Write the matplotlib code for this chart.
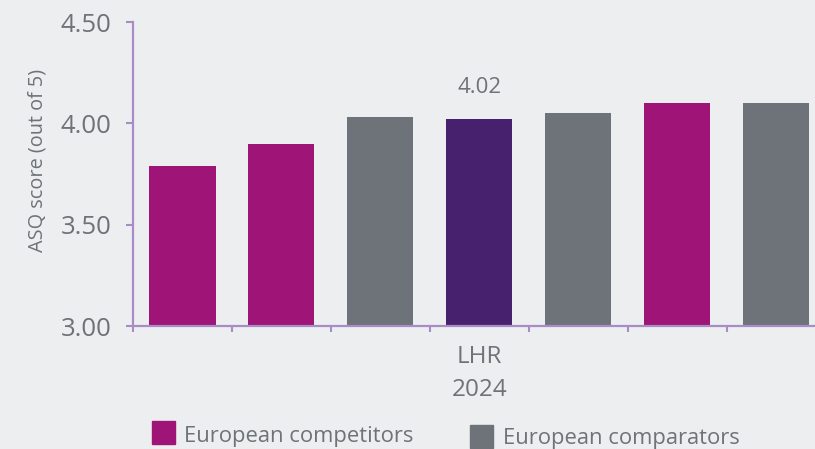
import matplotlib.pyplot as plt
from matplotlib.patches import Rectangle

# ASQ scores, LHR in the middle
scores = [3.79, 3.90, 4.03, 4.02, 4.05, 4.10, 4.10]
groups = ['competitor', 'competitor', 'comparator', 'lhr', 'comparator', 'competitor', 'comparator']
tick_labels = ['', '', '', 'LHR\n2024', '', '', '']
lhr_label = '4.02'

magenta = '#9e1477'
purple = '#47206e'
grey = '#6d7378'
axis_col = '#a88cc6'
bg = '#edeef0'
text_col = '#6d7378'
colours = {'competitor': magenta, 'comparator': grey, 'lhr': purple}

plt.rcParams['font.family'] = ['Open Sans', 'DejaVu Sans']

fig = plt.figure(figsize=(8.15, 4.49), dpi=100, facecolor=bg)
ax = fig.add_axes([133/815, 123/449, 682/815, 304/449])
ax.set_facecolor(bg)

x = list(range(len(scores)))
ax.bar(x, [s - 3.0 for s in scores], bottom=3.0, width=0.667,
       color=[colours[g] for g in groups], zorder=2)

ax.set_ylim(3.0, 4.5)
ax.set_xlim(-0.5, 6.39)
ax.set_yticks([3.0, 3.5, 4.0, 4.5])
ax.set_yticklabels(['3.00', '3.50', '4.00', '4.50'])
ax.set_ylabel('ASQ score (out of 5)', fontsize=14.3, color=text_col)
ax.yaxis.set_label_coords(-0.125, 0.543)

# boundaries between bars get the tick marks, the label sits under LHR
ax.set_xticks([i - 0.5 for i in range(len(scores))])
ax.set_xticklabels([])
ax.set_xticks(x, minor=True)
ax.set_xticklabels(tick_labels, minor=True, fontsize=17.5, color=text_col, linespacing=1.45)
ax.tick_params(axis='x', which='minor', length=0, pad=14)
ax.tick_params(axis='x', which='major', length=4.5, width=1.5, color=axis_col)
ax.tick_params(axis='y', length=5, width=1.5, color=axis_col, labelsize=18.5,
               labelcolor=text_col, pad=10.5)

for side in ['top', 'right']:
    ax.spines[side].set_visible(False)
for side in ['left', 'bottom']:
    ax.spines[side].set_color(axis_col)
    ax.spines[side].set_linewidth(1.6)

ax.annotate(lhr_label, (3, 4.02), xytext=(0, 19), textcoords='offset points',
            ha='center', va='baseline', fontsize=16, color=text_col)

# legend drawn by hand (the two entries are not on one line)
fig.add_artist(Rectangle((152/815, 1 - 444/449), 23/815, 23/449,
                         transform=fig.transFigure, color=magenta))
fig.text(184/815, 1 - 442/449, 'European competitors', fontsize=15.8,
         color=text_col, va='baseline')
fig.add_artist(Rectangle((470/815, 1 - 448/449), 23/815, 23/449,
                         transform=fig.transFigure, color=grey))
fig.text(503/815, 1 - 444/449, 'European comparators', fontsize=15.8,
         color=text_col, va='baseline')

fig.savefig('out.png', dpi=100, facecolor=bg)
